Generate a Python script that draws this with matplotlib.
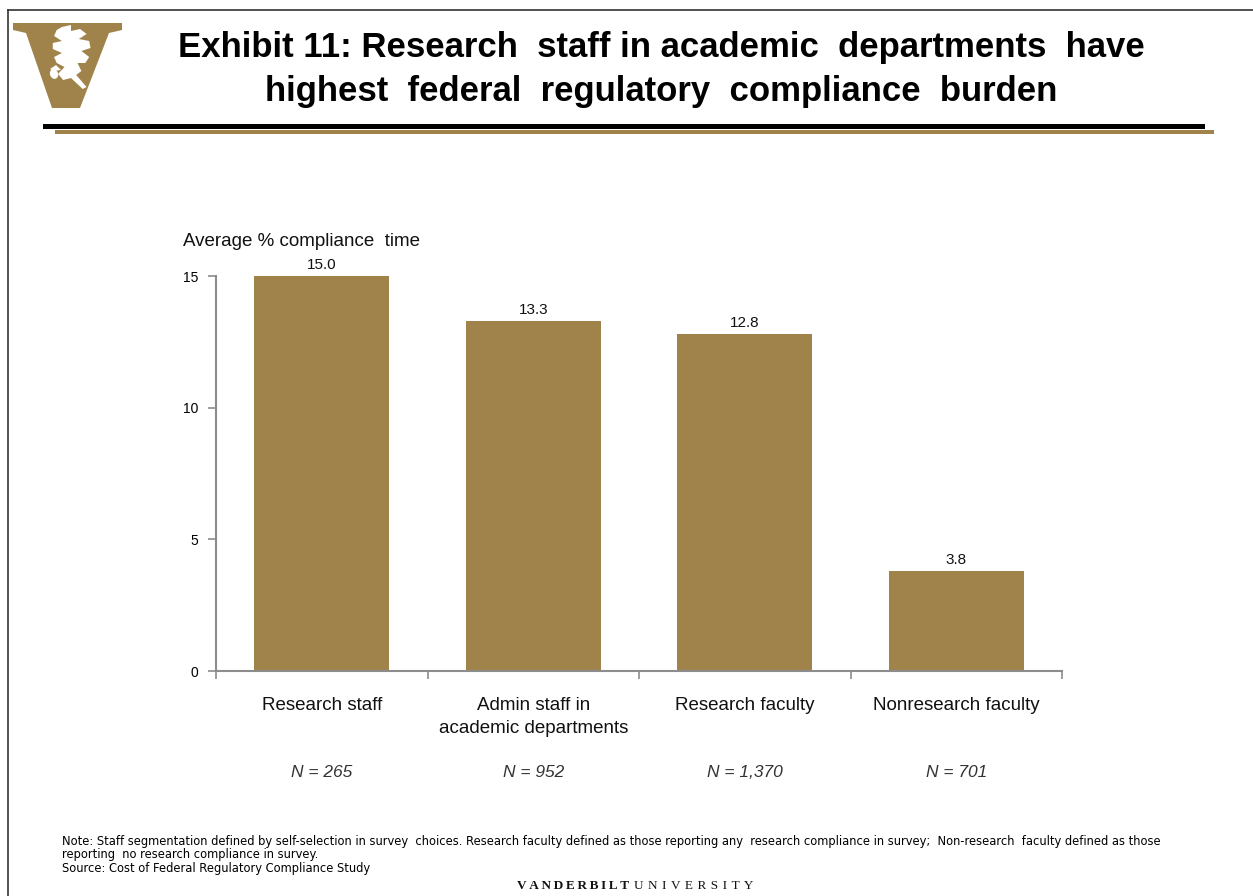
import matplotlib
matplotlib.use("Agg")
import matplotlib.pyplot as plt
from matplotlib.patches import Polygon, Rectangle, Ellipse

# Data
categories = ["Research staff", "Admin staff in\nacademic departments",
              "Research faculty", "Nonresearch faculty"]
values = [15.0, 13.3, 12.8, 3.8]
sample_sizes = ["N = 265", "N = 952", "N = 1,370", "N = 701"]
y_ticks = [0, 5, 10, 15]

GOLD = "#A0834A"
AXIS_GRAY = "#8C8C8C"
plt.rcParams["font.family"] = ["Liberation Sans", "DejaVu Sans"]

W, H = 1253, 896
fig = plt.figure(figsize=(W / 100, H / 100), dpi=100)
fig.patch.set_facecolor("white")

# Overlay in pixel coordinates for frame, header rules and logo
deco = fig.add_axes([0, 0, 1, 1], zorder=0)
deco.set_xlim(0, W)
deco.set_ylim(H, 0)
deco.axis("off")

# Slide frame
deco.plot([8, 8], [10, H], color="#333333", lw=1.2)
deco.plot([8, W], [10, 10], color="#333333", lw=1.2)

# Header rules
deco.add_patch(Rectangle((55, 130), 1159, 4.5, color=GOLD, lw=0))
deco.add_patch(Rectangle((43, 124.5), 1162, 5, color="black", lw=0))

# Logo: serif V with a white oak leaf and acorn
v_shape = [(13, 23), (122, 23), (122, 30), (109, 33), (80, 108),
           (52, 108), (26, 33), (13, 30)]
deco.add_patch(Polygon(v_shape, closed=True, color=GOLD, lw=0))
leaf = [(64, 27), (71, 25), (71, 31), (78, 29), (83, 34), (77, 39),
        (85, 41), (86, 48), (79, 51), (85, 57), (82, 63), (76, 63),
        (79, 71), (75, 75), (83, 87), (80, 89), (71, 78), (65, 80),
        (61, 74), (66, 67), (60, 63), (58, 57), (64, 53), (57, 49),
        (57, 43), (64, 41), (58, 36), (60, 30)]
leaf = [(71 + 1.3 * (px - 71), py) for px, py in leaf]
deco.add_patch(Polygon(leaf, closed=True, color="white", lw=0))
deco.add_patch(Ellipse((54, 74), 8, 10, angle=-20, color="white", lw=0))
deco.add_patch(Polygon([(50, 69), (56, 65), (61, 70), (54, 71)],
                       closed=True, color="white", lw=0))

# Title
fig.text(661 / W, 1 - 48 / H, "Exhibit 11: Research  staff in academic  departments  have",
         ha="center", va="center", fontsize=25, fontweight="bold", color="black")
fig.text(661 / W, 1 - 91 / H, "highest  federal  regulatory  compliance  burden",
         ha="center", va="center", fontsize=25, fontweight="bold", color="black")

# Bar chart
ax = fig.add_axes([216 / W, 1 - 671 / H, (1062 - 216) / W, (671 - 276) / H], zorder=1)
ax.patch.set_alpha(0)
x = list(range(len(categories)))
bars = ax.bar(x, values, width=0.64, color=GOLD, edgecolor="none")
ax.set_xlim(-0.5, len(categories) - 0.5)
ax.set_ylim(0, 15)
ax.set_yticks(y_ticks)
ax.set_yticklabels([str(t) for t in y_ticks], fontsize=10)
ax.tick_params(axis="y", length=6, width=1.2, color=AXIS_GRAY, pad=7)
ax.set_xticks([i - 0.5 for i in range(len(categories) + 1)])
ax.set_xticklabels([])
ax.tick_params(axis="x", length=6, width=1.2, color=AXIS_GRAY)
for side in ("top", "right"):
    ax.spines[side].set_visible(False)
for side in ("left", "bottom"):
    ax.spines[side].set_color(AXIS_GRAY)
    ax.spines[side].set_linewidth(1.5)

for rect, v in zip(bars, values):
    ax.annotate(f"{v:.1f}", (rect.get_x() + rect.get_width() / 2, v),
                xytext=(0, 3), textcoords="offset points",
                ha="center", va="bottom", fontsize=11, color="#111111")

for i, (cat, n) in enumerate(zip(categories, sample_sizes)):
    ax.annotate(cat, (i, 0), xycoords=("data", "axes fraction"),
                xytext=(0, -19), textcoords="offset points",
                ha="center", va="top", fontsize=13.5, linespacing=1.45,
                color="#111111")
    ax.annotate(n, (i, 0), xycoords=("data", "axes fraction"),
                xytext=(0, -68), textcoords="offset points",
                ha="center", va="top", fontsize=12.5, style="italic",
                color="#333333")

fig.text(183 / W, 1 - 241 / H, "Average % compliance  time",
         ha="left", va="center", fontsize=13.5, color="#111111")

# Footnotes
notes = [
    "Note: Staff segmentation defined by self-selection in survey  choices. Research faculty defined as those reporting any  research compliance in survey;  Non-research  faculty defined as those",
    "reporting  no research compliance in survey.",
    "Source: Cost of Federal Regulatory Compliance Study",
]
for k, line in enumerate(notes):
    fig.text(62 / W, 1 - (841 + 13.5 * k) / H, line, ha="left", va="center",
             fontsize=8.3, family="DejaVu Sans", color="black")

serif = ["Liberation Serif", "DejaVu Serif"]
fig.text(629 / W, 1 - 886 / H, "\u2009".join("VANDERBILT"), ha="right", va="center",
         fontsize=9.5, fontweight="bold", family=serif, color="#111111")
fig.text(634 / W, 1 - 886 / H, " \u200a".join("UNIVERSITY"), ha="left", va="center",
         fontsize=9.5, family=serif, color="#111111")

fig.savefig("out.png", dpi=100, facecolor="white")
